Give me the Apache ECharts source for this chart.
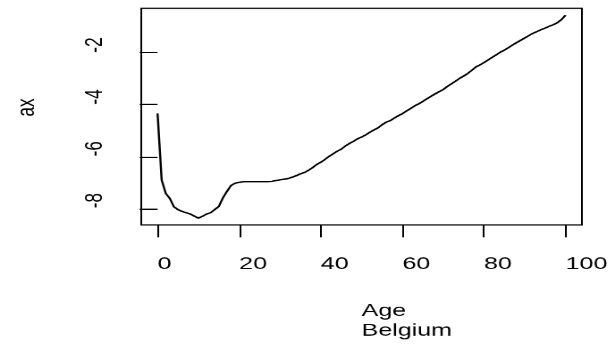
<!DOCTYPE html>
<html>
<head>
<meta charset="utf-8">
<script src="https://cdn.jsdelivr.net/npm/echarts@6/dist/echarts.min.js"></script>
<style>
  html, body { margin: 0; padding: 0; background: #fff; overflow: hidden; }
  #wrap { width: 615px; height: 348px; overflow: hidden; position: relative; }
  #chart { width: 344px; height: 282px; transform-origin: 0 0; transform: scale(1.78779, 1.23404); }
</style>
</head>
<body>
<div id="wrap"><div id="chart"></div></div>
<script>
// ---- data ----
const ages = [0,1,2,3,4,5,6,7,8,9,10,11,12,13,14,15,16,17,18,19,20,21,22,23,24,25,26,27,28,29,
  30,31,32,33,34,35,36,37,38,39,40,41,42,43,44,45,46,47,48,49,50,51,52,53,54,55,56,57,58,59,
  60,61,62,63,64,65,66,67,68,69,70,71,72,73,74,75,76,77,78,79,80,81,82,83,84,85,86,87,88,89,
  90,91,92,93,94,95,96,97,98,99,100];
const axValues = [-4.34,-6.91,-7.42,-7.62,-7.94,-8.05,-8.12,-8.17,-8.22,-8.30,
  -8.38,-8.31,-8.22,-8.17,-8.05,-7.93,-7.60,-7.35,-7.12,-7.03,
  -7.00,-6.97,-6.97,-6.97,-6.97,-6.97,-6.97,-6.97,-6.96,-6.93,
  -6.90,-6.88,-6.85,-6.80,-6.74,-6.67,-6.62,-6.53,-6.43,-6.31,
  -6.22,-6.12,-6.00,-5.90,-5.80,-5.72,-5.60,-5.50,-5.42,-5.32,
  -5.25,-5.17,-5.07,-4.98,-4.90,-4.78,-4.68,-4.62,-4.52,-4.43,
  -4.35,-4.25,-4.15,-4.05,-3.97,-3.88,-3.78,-3.68,-3.59,-3.50,
  -3.42,-3.30,-3.20,-3.10,-2.99,-2.90,-2.80,-2.68,-2.55,-2.47,
  -2.38,-2.28,-2.18,-2.08,-1.98,-1.90,-1.80,-1.70,-1.61,-1.52,
  -1.43,-1.34,-1.25,-1.18,-1.11,-1.05,-0.98,-0.92,-0.84,-0.72,
  -0.55];
const xTicks = [0, 20, 40, 60, 80, 100];
const yTicks = [-8, -6, -4, -2];
const xLabel = 'Age\nBelgium';
const yLabel = 'ax';

// ---- chart ----
const FONT = '"Liberation Sans", Arial, Helvetica, sans-serif';
const chart = echarts.init(document.getElementById('chart'), null, { renderer: 'canvas', devicePixelRatio: 2 });
const seriesData = ages.map((a, i) => [a, axValues[i]]);
chart.setOption({
  animation: false,
  backgroundColor: '#ffffff',
  grid: {
    left: 77.75, right: 18.5, top: 6.8, bottom: 99.7,
    show: true, borderColor: '#000', borderWidth: 1, backgroundColor: 'transparent'
  },
  xAxis: {
    type: 'value', min: -4, max: 104,
    axisLine: { show: false },
    splitLine: { show: false },
    axisTick: { show: true, inside: false, length: 10, customValues: xTicks, lineStyle: { color: '#000', width: 1 } },
    axisLabel: { show: true, customValues: xTicks, margin: 25, align: 'left', color: '#000', fontSize: 14, fontFamily: FONT },
    name: xLabel,
    nameLocation: 'middle',
    nameGap: 62,
    nameTextStyle: { align: 'left', verticalAlign: 'top', color: '#000', fontSize: 14, lineHeight: 16, fontFamily: FONT }
  },
  yAxis: {
    type: 'value', min: -8.643, max: -0.291,
    axisLine: { show: false },
    splitLine: { show: false },
    axisTick: { show: true, inside: false, length: 10, customValues: yTicks, lineStyle: { color: '#000', width: 1 } },
    axisLabel: { show: true, customValues: yTicks, rotate: 90, margin: 19, align: 'left', verticalAlign: 'bottom', color: '#000', fontSize: 14, fontFamily: FONT },
    name: yLabel,
    nameLocation: 'middle',
    nameRotate: 90,
    nameGap: 64,
    nameTextStyle: { align: 'left', verticalAlign: 'middle', color: '#000', fontSize: 14, fontFamily: FONT }
  },
  series: [{
    type: 'line',
    data: seriesData,
    showSymbol: false,
    symbol: 'none',
    lineStyle: { color: '#000', width: 1.2 },
    smooth: false
  }]
});
</script>
</body>
</html>
